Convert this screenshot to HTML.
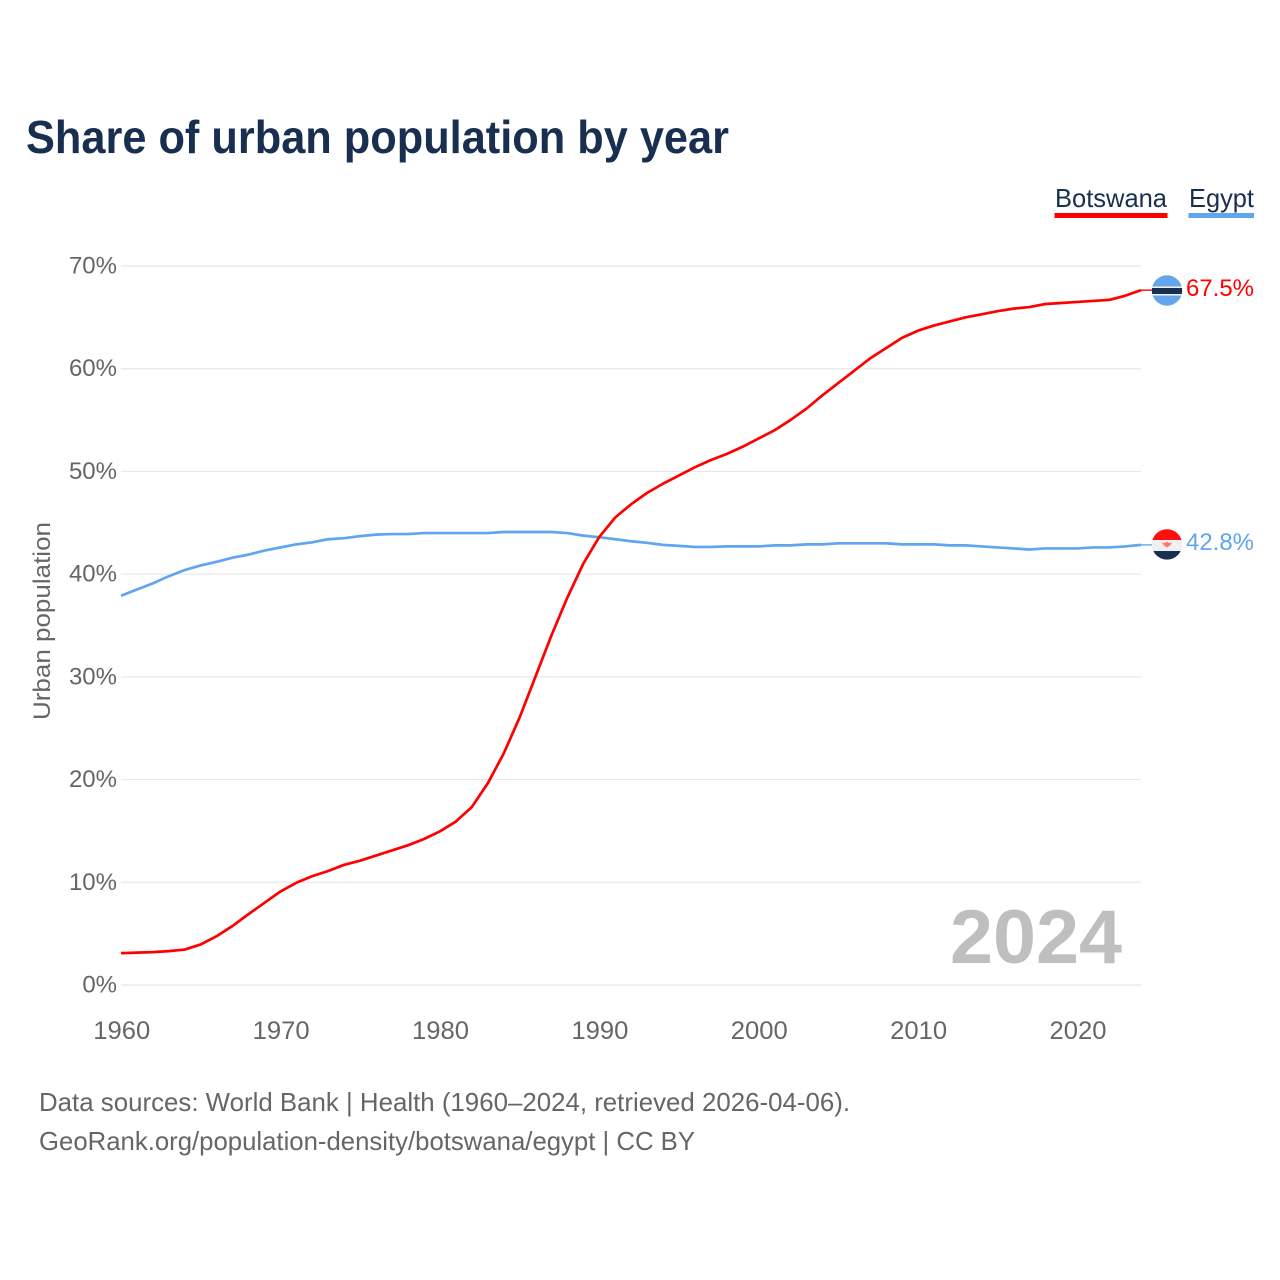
<!DOCTYPE html>
<html lang="en">
<head>
<meta charset="utf-8">
<title>Share of urban population by year</title>
<style>
html,body{margin:0;padding:0;background:#fff;width:1280px;height:1280px;overflow:hidden}
svg{display:block}
text{font-family:"Liberation Sans",sans-serif}
</style>
</head>
<body>
<svg id="chart" xmlns="http://www.w3.org/2000/svg" width="1280" height="1280" viewBox="0 0 1280 1280">
  <defs>
    <clipPath id="clip-bw"><circle cx="1167" cy="290.5" r="15.2"/></clipPath>
    <clipPath id="clip-eg"><circle cx="1167" cy="544.4" r="15.2"/></clipPath>
  </defs>
  <rect width="1280" height="1280" fill="#fff"/>
  <text x="26" y="153" font-size="46" font-weight="700" fill="#182f50" textLength="703" lengthAdjust="spacingAndGlyphs">Share of urban population by year</text>

  <g id="grid"></g>
  <g id="yticks"></g>
  <g id="xticks"></g>
  <text transform="translate(50,621) rotate(-90)" text-anchor="middle" font-size="24" fill="#666" textLength="198" lengthAdjust="spacingAndGlyphs">Urban population</text>
  <text x="1122" y="963" text-anchor="end" font-size="76" font-weight="700" fill="#bfbfbf" textLength="172" lengthAdjust="spacingAndGlyphs">2024</text>
  <g id="series"></g>

  <g>
    <text x="1055" y="207" font-size="26" fill="#182f50" textLength="112" lengthAdjust="spacingAndGlyphs">Botswana</text>
    <rect x="1054.5" y="213" width="113" height="5" fill="#ff0000"/>
  </g>
  <g>
    <text x="1189" y="207" font-size="26" fill="#182f50" textLength="65" lengthAdjust="spacingAndGlyphs">Egypt</text>
    <rect x="1188.5" y="213" width="65.5" height="5" fill="#60a5f0"/>
  </g>

  <g clip-path="url(#clip-bw)">
    <rect x="1150" y="274" width="34" height="34" fill="#63a6ee"/>
    <rect x="1150" y="286.5" width="34" height="9" fill="#f2f2f2"/>
    <rect x="1150" y="288" width="34" height="6" fill="#182f50"/>
  </g>
  <g clip-path="url(#clip-eg)">
    <rect x="1150" y="528" width="34" height="12" fill="#ff0f0f"/>
    <rect x="1150" y="540" width="34" height="11" fill="#f0f0f0"/>
    <rect x="1150" y="551" width="34" height="10" fill="#182f50"/>
    <path d="M1162 542.5l3 .5 2-1.5 2 1.5 3-.5-2 3-3 2-3-2z" fill="#f77"/>
  </g>
  <text id="label-bw" x="1186" y="296" font-size="24.5" fill="#ff0000" textLength="68" lengthAdjust="spacingAndGlyphs">67.5%</text>
  <text id="label-eg" x="1186" y="550" font-size="24.5" fill="#60a5f0" textLength="68" lengthAdjust="spacingAndGlyphs">42.8%</text>

  <text x="39" y="1111" font-size="26" fill="#666" textLength="811" lengthAdjust="spacingAndGlyphs">Data sources: World Bank | Health (1960–2024, retrieved 2026-04-06).</text>
  <text x="39" y="1150" font-size="26" fill="#666" textLength="656" lengthAdjust="spacingAndGlyphs">GeoRank.org/population-density/botswana/egypt | CC BY</text>
</svg>
<script>
const startYear = 1960;
const yTickValues = [0, 10, 20, 30, 40, 50, 60, 70];
const xTickYears = [1960, 1970, 1980, 1990, 2000, 2010, 2020];
const botswana = [3.1, 3.15, 3.2, 3.3, 3.45, 3.95, 4.75, 5.75, 6.9, 8.0,
  9.1, 9.95, 10.6, 11.1, 11.7, 12.1, 12.6, 13.1, 13.6, 14.2,
  14.95, 15.9, 17.3, 19.6, 22.5, 26.0, 30.0, 34.0, 37.7, 41.0,
  43.6, 45.5, 46.8, 47.9, 48.8, 49.6, 50.4, 51.1, 51.7, 52.4,
  53.2, 54.0, 55.0, 56.1, 57.4, 58.6, 59.8, 61.0, 62.0, 63.0,
  63.7, 64.2, 64.6, 65.0, 65.3, 65.6, 65.85, 66.0, 66.3, 66.4,
  66.5, 66.6, 66.7, 67.1, 67.65];
const egypt = [37.9, 38.5, 39.1, 39.8, 40.4, 40.85, 41.2, 41.6, 41.9, 42.3,
  42.6, 42.9, 43.1, 43.4, 43.5, 43.7, 43.85, 43.9, 43.9, 44.0,
  44.0, 44.0, 44.0, 44.0, 44.1, 44.1, 44.1, 44.1, 44.0, 43.75,
  43.6, 43.4, 43.2, 43.05, 42.85, 42.75, 42.65, 42.65, 42.7, 42.7,
  42.7, 42.8, 42.8, 42.9, 42.9, 43.0, 43.0, 43.0, 43.0, 42.9,
  42.9, 42.9, 42.8, 42.8, 42.7, 42.6, 42.5, 42.4, 42.5, 42.5,
  42.5, 42.6, 42.6, 42.7, 42.85];

const NS = 'http://www.w3.org/2000/svg';
const xScale = function (year) { return 121 + (year - 1960) * (1141 - 121) / 64; };
const yScale = function (v) { return 985 - v * (985 - 266) / 70; };

function make(tag, attrs, parent) {
  const el = document.createElementNS(NS, tag);
  Object.keys(attrs).forEach(function (k) { el.setAttribute(k, attrs[k]); });
  parent.appendChild(el);
  return el;
}

const grid = document.getElementById('grid');
const yticks = document.getElementById('yticks');
const xticks = document.getElementById('xticks');
const series = document.getElementById('series');

yTickValues.forEach(function (v) {
  const line = make('line', { x1: 121, x2: 1141, y1: yScale(v), y2: yScale(v), stroke: '#e8e8e8', 'stroke-width': 1.2 }, grid);
  
  
  const t = make('text', { x: 117, y: yScale(v) + 7.5, 'text-anchor': 'end', 'font-size': 24, fill: '#666' }, yticks);
  
  
  t.textContent = v + '%';
});

xTickYears.forEach(function (yr) {
  const t = make('text', { x: xScale(yr) + 0.8, y: 1039, 'text-anchor': 'middle', 'font-size': 25, fill: '#666', textLength: 57, lengthAdjust: 'spacingAndGlyphs' }, xticks);
  
  
  t.textContent = yr;
});

function linePoints(values) {
  return values.map(function (v, i) {
    return xScale(startYear + i).toFixed(2) + ',' + yScale(v).toFixed(2);
  }).join(' ');
}

const lastX = xScale(startYear + botswana.length - 1);

const egyptStub = make('line', { x1: lastX, x2: 1152, y1: yScale(egypt[egypt.length - 1]), y2: yScale(egypt[egypt.length - 1]), stroke: '#60a5f0', 'stroke-width': 1.4 }, series);



const botswanaStub = make('line', { x1: lastX, x2: 1152, y1: yScale(botswana[botswana.length - 1]), y2: yScale(botswana[botswana.length - 1]), stroke: '#ff0000', 'stroke-width': 1.4 }, series);



const egyptLine = make('polyline', { points: linePoints(egypt), fill: 'none', stroke: '#60a5f0', 'stroke-width': 2.7, 'stroke-linejoin': 'round' }, series);



const botswanaLine = make('polyline', { points: linePoints(botswana), fill: 'none', stroke: '#ff0000', 'stroke-width': 2.7, 'stroke-linejoin': 'round' }, series);


</script>
</body>
</html>
